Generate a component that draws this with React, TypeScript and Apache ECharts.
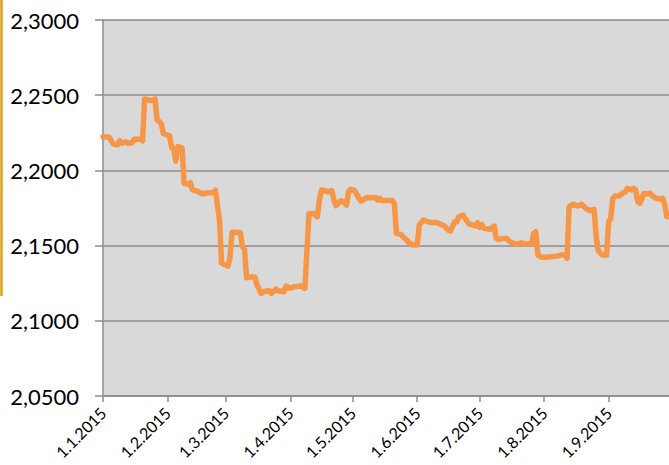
import React, { useEffect, useRef } from "react";
import * as echarts from "echarts";

const dates: string[] = [
  "2015-01-01","2015-01-04","2015-01-06","2015-01-08","2015-01-09","2015-01-10","2015-01-12","2015-01-13","2015-01-15","2015-01-16",
  "2015-01-19","2015-01-20","2015-01-21","2015-01-23","2015-01-25","2015-01-26","2015-01-27","2015-01-29","2015-01-30","2015-02-01",
  "2015-02-02","2015-02-03","2015-02-04","2015-02-05","2015-02-06","2015-02-08","2015-02-09","2015-02-11","2015-02-12","2015-02-13",
  "2015-02-15","2015-02-18","2015-02-20","2015-02-23","2015-02-24","2015-02-26","2015-02-27","2015-03-02","2015-03-03","2015-03-04",
  "2015-03-06","2015-03-08","2015-03-09","2015-03-10","2015-03-11","2015-03-13","2015-03-15","2015-03-16","2015-03-18","2015-03-19",
  "2015-03-22","2015-03-23","2015-03-25","2015-03-26","2015-03-29","2015-03-30","2015-04-01","2015-04-03","2015-04-06","2015-04-07",
  "2015-04-08","2015-04-10","2015-04-12","2015-04-14","2015-04-15","2015-04-16","2015-04-19","2015-04-21","2015-04-22","2015-04-23",
  "2015-04-25","2015-04-26","2015-04-28","2015-04-29","2015-04-30","2015-05-02","2015-05-04","2015-05-05","2015-05-08","2015-05-10",
  "2015-05-12","2015-05-13","2015-05-14","2015-05-15","2015-05-18","2015-05-20","2015-05-21","2015-05-22","2015-05-24","2015-05-26",
  "2015-05-27","2015-05-28","2015-05-30","2015-06-01","2015-06-02","2015-06-04","2015-06-06","2015-06-08","2015-06-10","2015-06-12",
  "2015-06-14","2015-06-16","2015-06-17","2015-06-19","2015-06-20","2015-06-21","2015-06-23","2015-06-24","2015-06-26","2015-06-27",
  "2015-06-29","2015-06-30","2015-07-01","2015-07-02","2015-07-03","2015-07-06","2015-07-08","2015-07-09","2015-07-10","2015-07-12",
  "2015-07-14","2015-07-15","2015-07-17","2015-07-19","2015-07-21","2015-07-23","2015-07-25","2015-07-26","2015-07-27","2015-07-28",
  "2015-07-29","2015-07-31","2015-08-02","2015-08-04","2015-08-07","2015-08-09","2015-08-11","2015-08-12","2015-08-13","2015-08-15",
  "2015-08-17","2015-08-19","2015-08-21","2015-08-23","2015-08-25","2015-08-26","2015-08-27","2015-08-29","2015-08-31","2015-09-01",
  "2015-09-02","2015-09-03","2015-09-04","2015-09-06","2015-09-08","2015-09-09","2015-09-10","2015-09-12","2015-09-13","2015-09-14",
  "2015-09-15","2015-09-16","2015-09-18","2015-09-19","2015-09-21","2015-09-22","2015-09-24","2015-09-26","2015-09-27","2015-09-28",
  "2015-09-29"
];

const values: number[] = [
  2.2224,2.222,2.2175,2.217,2.2197,2.218,2.219,2.218,2.2184,2.2207,
  2.2207,2.2197,2.2475,2.2468,2.2463,2.2475,2.2335,2.2313,2.2246,2.2235,
  2.223,2.215,2.2147,2.2062,2.2158,2.215,2.1914,2.1907,2.1918,2.187,
  2.1863,2.1843,2.1851,2.1851,2.1868,2.167,2.1384,2.1364,2.1415,2.1588,
  2.1588,2.1586,2.1493,2.1475,2.1286,2.1293,2.1289,2.1238,2.1182,2.1193,
  2.12,2.1182,2.1211,2.12,2.1193,2.1231,2.1216,2.1227,2.1231,2.1227,
  2.1216,2.1714,2.1714,2.1692,2.1803,2.187,2.1858,2.1865,2.1803,2.1765,
  2.1796,2.1796,2.177,2.1858,2.1874,2.1865,2.1814,2.1796,2.182,2.1818,
  2.182,2.1803,2.1814,2.18,2.18,2.18,2.1781,2.1582,2.1575,2.1548,
  2.1537,2.1519,2.1504,2.1504,2.1637,2.167,2.1659,2.1652,2.1655,2.1643,
  2.163,2.1603,2.1597,2.1659,2.1659,2.1692,2.1703,2.1681,2.1643,2.1641,
  2.163,2.1652,2.1621,2.1641,2.1615,2.1608,2.163,2.1548,2.1541,2.1548,
  2.1548,2.1532,2.1515,2.151,2.1519,2.151,2.1515,2.151,2.1582,2.1592,
  2.1437,2.1422,2.1422,2.1426,2.143,2.1437,2.1437,2.1415,2.1759,2.1775,
  2.1763,2.1775,2.1748,2.1732,2.1741,2.1559,2.1466,2.1437,2.1437,2.1659,
  2.1681,2.1814,2.183,2.183,2.1851,2.1856,2.1881,2.187,2.1881,2.187,
  2.1792,2.1781,2.1848,2.1843,2.1848,2.183,2.1814,2.1808,2.1814,2.177,
  2.1692
];

const monthTickDates: string[] = [
  "2015-01-01","2015-02-01","2015-03-01","2015-04-01","2015-05-01",
  "2015-06-01","2015-07-01","2015-08-01","2015-09-01"
];

const axisStart = "2015-01-01";
const axisEnd = "2015-09-30";
const yMin = 2.05;
const yMax = 2.3;
const yStep = 0.05;

function toTime(s: string): number {
  const [y, m, d] = s.split("-").map(Number);
  return new Date(y, m - 1, d).getTime();
}

export default function App() {
  const ref = useRef<HTMLDivElement>(null);
  useEffect(() => {
    if (!ref.current) return;
    const chart = echarts.init(ref.current, undefined, { renderer: "svg" });
    const ticks = monthTickDates.map(toTime);
    const font = "Lato, 'Liberation Sans', sans-serif";
    chart.setOption({
      animation: false,
      backgroundColor: "#ffffff",
      grid: { left: 103, top: 20, right: 0, bottom: 69 },
      graphic: [
        {
          type: "line",
          shape: { x1: 1.5, y1: 0, x2: 1.5, y2: 296 },
          style: { stroke: "#d9a21b", lineWidth: 2.5 },
        },
      ],
      xAxis: {
        type: "value",
        min: toTime(axisStart),
        max: toTime(axisEnd),
        axisLine: { show: true, lineStyle: { color: "#8c8c8c", width: 1.5 } },
        axisTick: {
          show: true,
          customValues: ticks,
          length: 6,
          lineStyle: { color: "#8c8c8c", width: 1.5 },
        },
        axisLabel: {
          customValues: ticks,
          rotate: 45,
          margin: 14,
          fontSize: 16,
          fontFamily: font,
          color: "#000000",
          formatter: (v: number) => {
            const d = new Date(v);
            return `${d.getDate()}.${d.getMonth() + 1}.${d.getFullYear()}`;
          },
        },
        splitLine: { show: false },
      },
      yAxis: {
        type: "value",
        min: yMin,
        max: yMax,
        interval: yStep,
        axisLine: { show: true, lineStyle: { color: "#8c8c8c", width: 1.5 } },
        axisTick: { show: true, length: 8, lineStyle: { color: "#8c8c8c", width: 1.5 } },
        axisLabel: {
          margin: 24,
          fontSize: 22,
          fontFamily: font,
          color: "#000000",
          formatter: (v: number) => v.toFixed(4).replace(".", ","),
        },
        splitLine: { show: true, lineStyle: { color: "#8a8a8a", width: 1.5 } },
        splitArea: { show: true, areaStyle: { color: ["#d9d9d9", "#d9d9d9"] } },
      },
      series: [
        {
          type: "line",
          data: dates.map((d, i) => [toTime(d), values[i]]),
          showSymbol: false,
          symbol: "none",
          lineStyle: { color: "#f79646", width: 5.5, join: "round", cap: "round" },
          clip: true,
        },
      ],
    });
    return () => chart.dispose();
  }, []);
  return <div ref={ref} style={{ width: 669, height: 465, position: "absolute", left: 0, top: 0 }} />;
}
